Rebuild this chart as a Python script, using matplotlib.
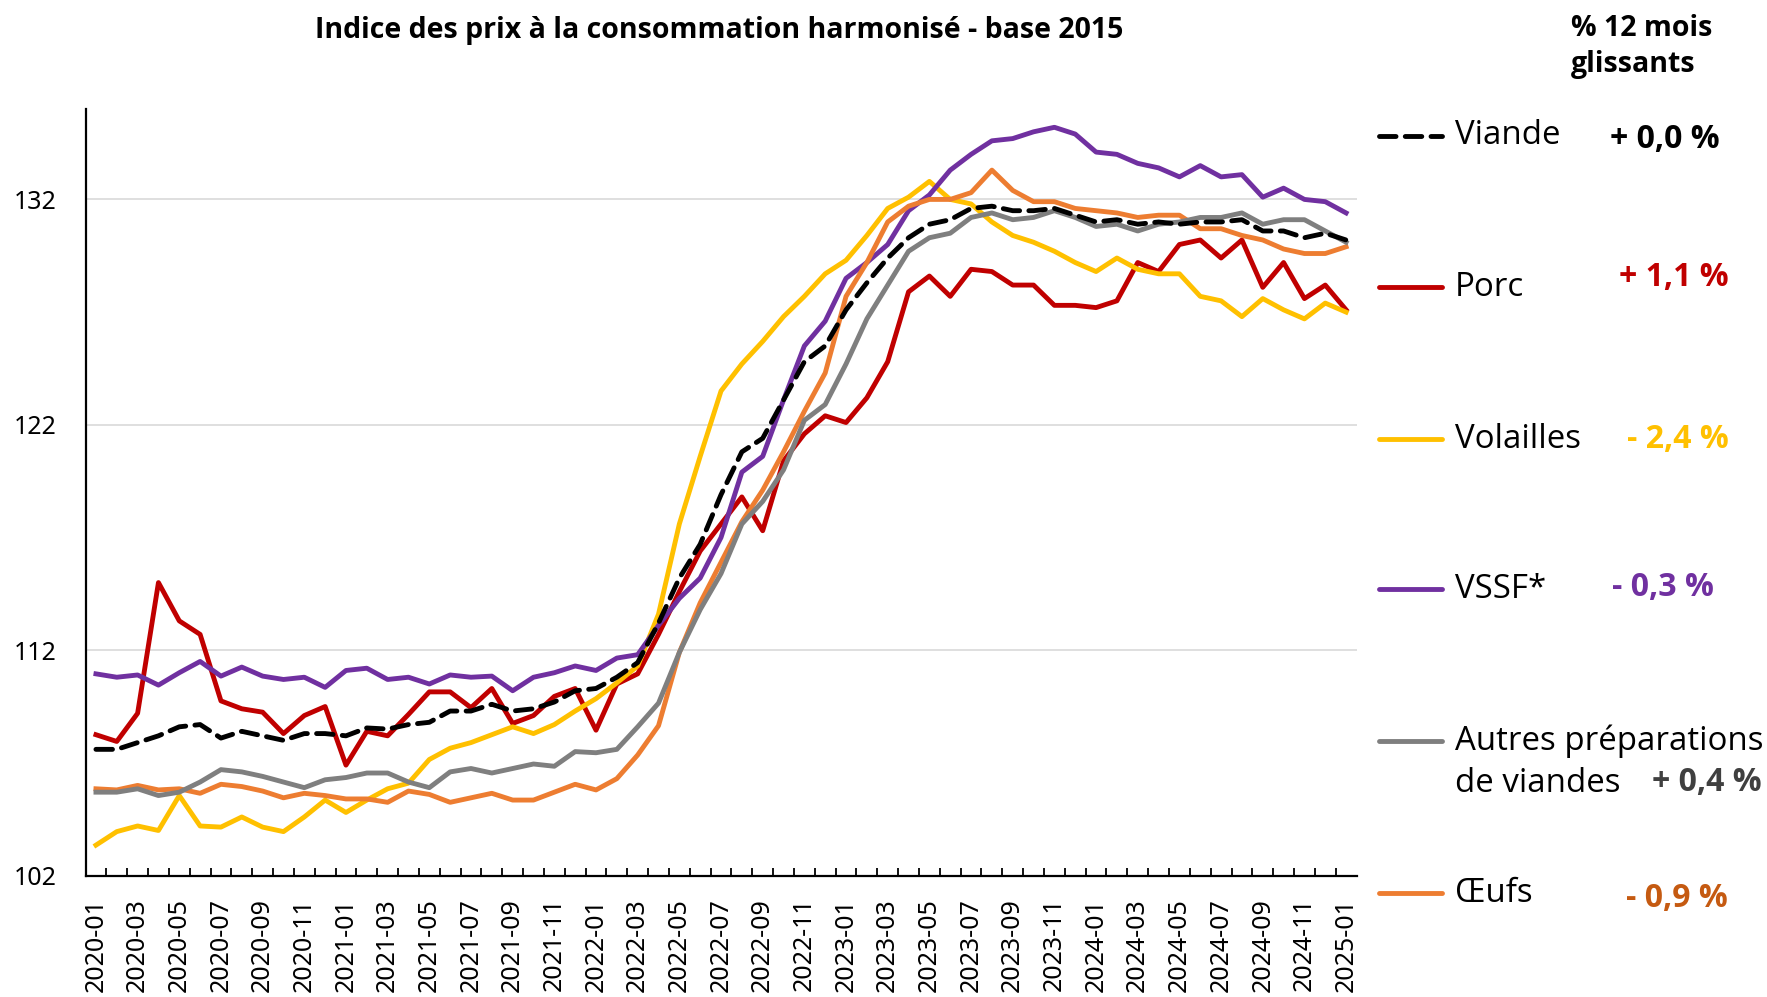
import matplotlib.pyplot as plt
from matplotlib.lines import Line2D

plt.rcParams["font.family"] = ["Open Sans", "DejaVu Sans"]

# mois 2020-01 .. 2025-01
months = [f"{y}-{m:02d}" for y in range(2020, 2026) for m in range(1, 13)][:61]

viande = [107.6, 107.6, 107.9, 108.2, 108.6, 108.7, 108.1, 108.4, 108.2, 108.0,
          108.3, 108.3, 108.2, 108.55, 108.5, 108.7, 108.8, 109.3, 109.3, 109.6,
          109.3, 109.4, 109.7, 110.2, 110.3, 110.8, 111.45, 113.2, 115.2, 116.7,
          118.9, 120.8, 121.4, 123.1, 124.8, 125.5, 127.1, 128.3, 129.4, 130.3,
          130.9, 131.1, 131.6, 131.7, 131.5, 131.5, 131.6, 131.3, 131.0, 131.1,
          130.9, 131.0, 130.9, 131.0, 131.0, 131.1, 130.6, 130.6, 130.3, 130.5, 130.2]
porc = [108.25, 107.95, 109.2, 115.0, 113.3, 112.7, 109.75, 109.4, 109.25, 108.3,
        109.1, 109.5, 106.9, 108.4, 108.2, 109.15, 110.15, 110.15, 109.45, 110.3,
        108.75, 109.1, 109.95, 110.3, 108.45, 110.5, 110.95, 112.7, 114.6, 116.4,
        117.6, 118.8, 117.3, 120.4, 121.6, 122.4, 122.1, 123.2, 124.8, 127.9,
        128.6, 127.7, 128.9, 128.8, 128.2, 128.2, 127.3, 127.3, 127.2, 127.5,
        129.2, 128.8, 130.0, 130.2, 129.4, 130.2, 128.1, 129.2, 127.6, 128.2, 127.1]
volailles = [103.35, 103.95, 104.2, 104.0, 105.55, 104.2, 104.15, 104.6, 104.15, 103.95,
             104.6, 105.35, 104.8, 105.35, 105.85, 106.1, 107.15, 107.65, 107.9, 108.25,
             108.6, 108.3, 108.7, 109.3, 109.85, 110.55, 111.3, 113.6, 117.6, 120.6,
             123.5, 124.7, 125.7, 126.8, 127.7, 128.7, 129.3, 130.4, 131.6, 132.1,
             132.8, 132.0, 131.8, 131.0, 130.4, 130.1, 129.7, 129.2, 128.8, 129.4,
             128.9, 128.7, 128.7, 127.7, 127.5, 126.8, 127.6, 127.1, 126.7, 127.4, 127.0]
vssf = [110.95, 110.8, 110.9, 110.45, 111.0, 111.5, 110.85, 111.25, 110.85, 110.7,
        110.8, 110.35, 111.1, 111.2, 110.7, 110.8, 110.5, 110.9, 110.8, 110.85,
        110.2, 110.8, 111.0, 111.3, 111.1, 111.65, 111.8, 113.1, 114.3, 115.2,
        117.0, 119.9, 120.6, 123.1, 125.5, 126.6, 128.5, 129.2, 130.0, 131.5,
        132.2, 133.3, 134.0, 134.6, 134.7, 135.0, 135.2, 134.9, 134.1, 134.0,
        133.6, 133.4, 133.0, 133.5, 133.0, 133.1, 132.1, 132.5, 132.0, 131.9, 131.4]
autres = [105.7, 105.7, 105.85, 105.55, 105.7, 106.15, 106.7, 106.6, 106.4, 106.15,
          105.9, 106.25, 106.35, 106.55, 106.55, 106.15, 105.9, 106.6, 106.75, 106.55,
          106.75, 106.95, 106.85, 107.5, 107.45, 107.6, 108.6, 109.65, 111.9, 113.8,
          115.4, 117.6, 118.6, 120.0, 122.2, 122.9, 124.7, 126.7, 128.2, 129.7,
          130.3, 130.5, 131.2, 131.4, 131.1, 131.2, 131.5, 131.2, 130.8, 130.9,
          130.6, 130.9, 131.0, 131.2, 131.2, 131.4, 130.9, 131.1, 131.1, 130.6, 130.1]
oeufs = [105.85, 105.8, 106.0, 105.8, 105.85, 105.65, 106.05, 105.95, 105.75, 105.45,
         105.65, 105.55, 105.4, 105.4, 105.25, 105.75, 105.6, 105.25, 105.45, 105.65,
         105.35, 105.35, 105.7, 106.05, 105.8, 106.3, 107.35, 108.65, 111.9, 114.1,
         115.9, 117.7, 119.1, 120.8, 122.6, 124.3, 127.7, 129.2, 131.0, 131.7,
         132.0, 132.0, 132.3, 133.3, 132.4, 131.9, 131.9, 131.6, 131.5, 131.4,
         131.2, 131.3, 131.3, 130.7, 130.7, 130.4, 130.2, 129.8, 129.6, 129.6, 129.9]

labels = ["Viande", "Porc", "Volailles", "VSSF*", "Autres préparations", "Œufs"]
variations = ["+ 0,0 %", "+ 1,1 %", "- 2,4 %", "- 0,3 %", "+ 0,4 %", "- 0,9 %"]

colors = ["black", "#C00000", "#FFC000", "#7030A0", "#7F7F7F", "#ED7D31"]
var_colors = ["black", "#C00000", "#FFC000", "#7030A0", "#404040", "#C55A11"]
dash = (0, (3.4, 1.9))

fig = plt.figure(figsize=(17.67, 9.97), dpi=100)
ax = fig.add_axes([0.0484, 0.1218, 0.7193, 0.7686])

x = list(range(len(months)))
series = [viande, porc, volailles, vssf, autres, oeufs]
# viande au dessus des autres
for k in [1, 2, 3, 5, 0, 4]:
    if k == 0:
        ax.plot(x, series[k], color=colors[k], lw=3.5, linestyle=dash,
                dash_capstyle="round", zorder=4)
    else:
        ax.plot(x, series[k], color=colors[k], lw=3.5, zorder=3)

ax.set_xlim(-0.5, len(months) - 0.5)
ax.set_ylim(102, 136)
ax.set_yticks([102, 112, 122, 132])
ax.grid(axis="y", color="#D9D9D9", lw=1.2)
ax.set_axisbelow(True)
for s in ["top", "right"]:
    ax.spines[s].set_visible(False)
for s in ["left", "bottom"]:
    ax.spines[s].set_linewidth(1.6)
    ax.spines[s].set_color("black")

ax.set_xticks(x[::2])
ax.set_xticklabels(months[::2], rotation=90, fontsize=18, family="Noto Sans")
ax.set_xticks([i + 0.5 for i in x[:-1]], minor=True)
ax.tick_params(axis="x", which="major", length=0, pad=16)
ax.tick_params(axis="x", which="minor", direction="in", length=6, width=1.3)
ax.tick_params(axis="y", length=0, pad=21)
for t in ax.get_yticklabels():
    t.set_fontsize(18)
    t.set_family("Noto Sans")

fig.text(0.407, 0.969, "Indice des prix à la consommation harmonisé - base 2015",
         ha="center", va="center", fontsize=20.5, fontweight="bold")
fig.text(0.889, 0.986, "% 12 mois\nglissants", ha="left", va="top",
         fontsize=20.5, fontweight="bold", linespacing=1.3)

# légende à droite
W, H = 1767, 997
leg_y = [136, 287, 439, 589, 741, 893]
var_pos = [(1665, 139), (1674, 278), (1678, 440), (1663, 587), (1707, 782), (1677, 898)]
for k in range(6):
    yy = 1 - leg_y[k] / H
    ls = dash if k == 0 else "-"
    fig.add_artist(Line2D([1379 / W, 1442 / W], [yy, yy], color=colors[k], lw=3.5,
                          linestyle=ls, dash_capstyle="round", solid_capstyle="round",
                          transform=fig.transFigure))
    fig.text(1455 / W, yy, labels[k], ha="left", va="center", fontsize=23.8)
    vx, vy = var_pos[k]
    fig.text(vx / W, 1 - vy / H, variations[k], ha="center", va="center",
             fontsize=23, fontweight="bold", color=var_colors[k])
fig.text(1455 / W, 1 - 783 / H, "de viandes", ha="left", va="center", fontsize=23.8)

plt.savefig("out.png", dpi=100)
